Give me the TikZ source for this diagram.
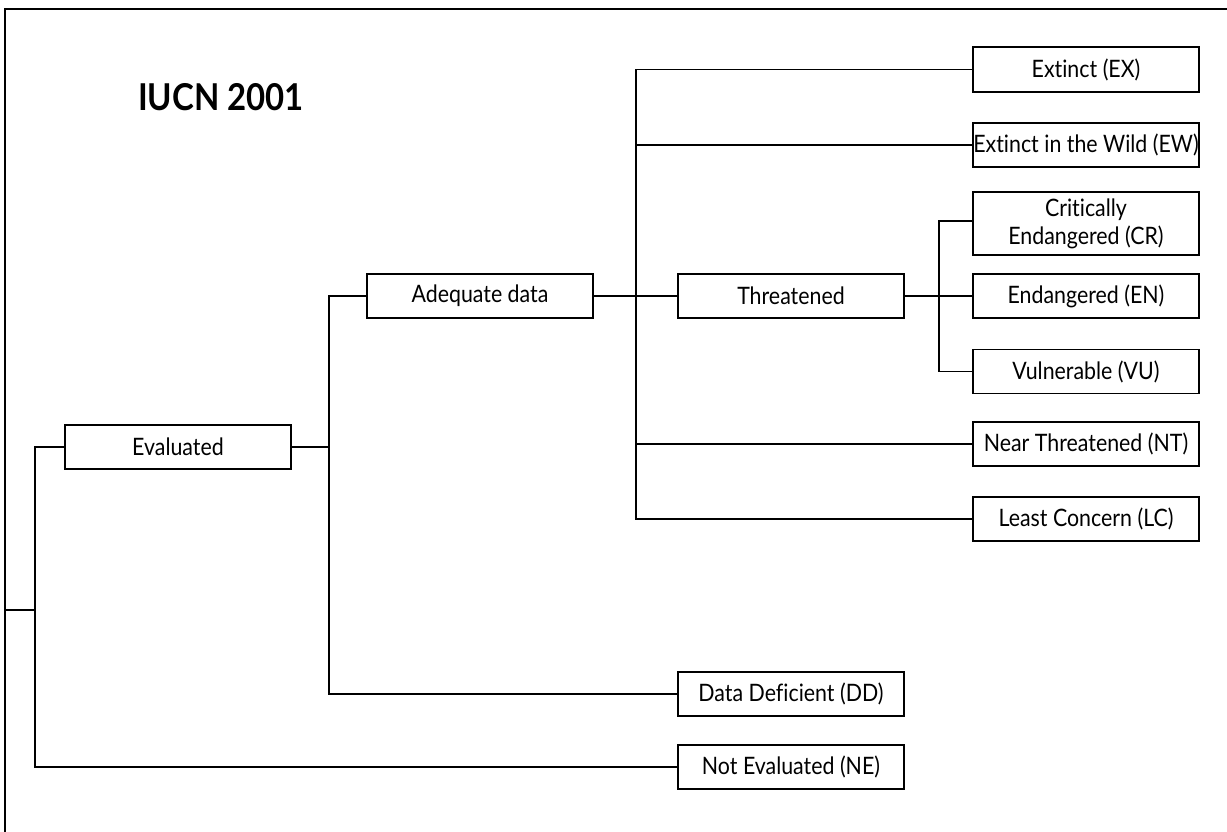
\documentclass[tikz,border=0pt]{standalone}
\usepackage{fontspec}
\setmainfont{Lato}[FakeStretch=0.89, Ligatures=NoCommon]
\begin{document}
\begin{tikzpicture}[x=1pt,y=-1pt,
  box/.style={draw, line width=1.2pt, minimum width=226pt, minimum height=44pt,
    inner sep=0pt, align=center, font=\fontsize{24}{27}\selectfont},
  link/.style={line width=1.2pt}]
\useasboundingbox (0,0) rectangle (1227,832);
\draw[link] (5,832) -- (5,9) -- (1227,9);
\node[font=\fontsize{37}{40}\selectfont\bfseries] (title) at (221,97.5) {IUCN 2001};
% boxes
\node[box] (eval) at (178,447) {Evaluated};
\node[box] (adq) at (480,296) {Adequate data};
\node[box] (thr) at (791,296) {Threatened};
\node[box] (dd) at (791,694) {Data Deficient (DD)};
\node[box] (ne) at (791,767) {Not Evaluated (NE)};
\node[box, minimum height=45pt] (ex) at (1086,69.5) {Extinct (EX)};
\node[box] (ew) at (1086,145) {Extinct in the Wild (EW)};
\node[box, minimum height=63pt] (cr) at (1086,223.5) {Critically\\[1pt]Endangered (CR)};
\node[box] (en) at (1086,296) {Endangered (EN)};
\node[box] (vu) at (1086,371.5) {Vulnerable (VU)};
\node[box] (nt) at (1086,444) {Near Threatened (NT)};
\node[box] (lc) at (1086,519) {Least Concern (LC)};
% junctions
\coordinate (root) at (5,610);
\coordinate (j1) at (35,447);
\coordinate (j2) at (329,296);
\coordinate (j3) at (636,69.5);
\coordinate (j4) at (939,221);
% connectors
\draw[link] (eval.west) -- (j1) |- (ne.west);
\draw[link] (root) -- (root -| j1);
\draw[link] (adq.west) -- (j2) |- (dd.west);
\draw[link] (eval.east) -- (eval.east -| j2);
\draw[link] (ex.west) -- (j3) |- (lc.west);
\draw[link] (ew.west) -- (ew.west -| j3);
\draw[link] (nt.west) -- (nt.west -| j3);
\draw[link] (adq.east) -- (thr.west);
\draw[link] (j4 -| cr.west) -- (j4) |- (vu.west);
\draw[link] (thr.east) -- (en.west);
\end{tikzpicture}
\end{document}
